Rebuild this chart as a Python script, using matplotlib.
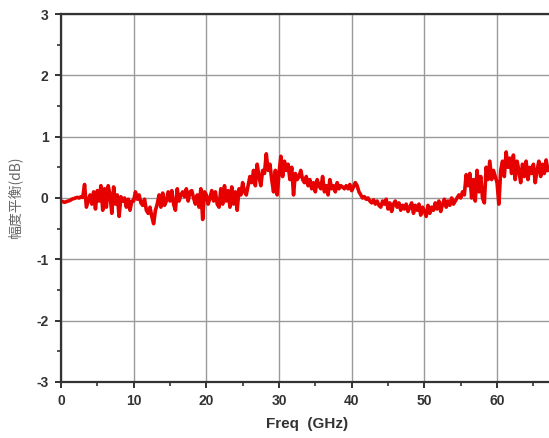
import numpy as np
import matplotlib
matplotlib.use("Agg")
import matplotlib.pyplot as plt
from matplotlib.ticker import MultipleLocator

plt.rcParams["axes.unicode_minus"] = False

# amplitude balance (dB), 0.25 GHz steps from 0 to 67 GHz
balance = [
    -0.05, -0.06, -0.07, -0.06,   # 0
    -0.05, -0.04, -0.02, -0.01,   # 1
    0.00, 0.01, 0.00, 0.02,       # 2
    0.01, 0.22, -0.15, -0.05,     # 3
    0.05, -0.10, 0.10, -0.18,     # 4
    0.12, -0.05, 0.20, -0.20,     # 5
    0.15, -0.15, 0.20, 0.05,      # 6
    -0.25, 0.18, -0.10, 0.05,     # 7
    -0.30, 0.02, -0.05, 0.00,     # 8
    -0.15, -0.02, -0.20, -0.05,   # 9
    -0.05, 0.10, -0.02, 0.05,     # 10
    -0.08, -0.12, -0.02, -0.20,   # 11
    -0.25, -0.15, -0.30, -0.42,   # 12
    -0.20, -0.10, 0.05, -0.15,    # 13
    0.08, -0.12, -0.05, 0.10,     # 14
    -0.05, 0.12, -0.10, -0.20,    # 15
    0.15, -0.05, 0.05, 0.10,      # 16
    0.02, 0.15, -0.05, 0.10,      # 17
    0.12, 0.00, -0.10, 0.05,      # 18
    -0.15, 0.15, -0.35, 0.10,     # 19
    0.05, -0.10, 0.00, 0.12,      # 20
    -0.05, 0.10, -0.10, -0.15,    # 21
    0.15, -0.10, 0.20, -0.05,     # 22
    0.12, -0.15, 0.18, -0.10,     # 23
    0.10, -0.20, 0.15, 0.05,      # 24
    0.25, 0.10, 0.05, 0.20,       # 25
    0.35, 0.25, 0.45, 0.20,       # 26
    0.55, 0.35, 0.20, 0.45,       # 27
    0.40, 0.72, 0.45, 0.55,       # 28
    0.30, 0.10, 0.45, 0.05,       # 29
    0.40, 0.68, 0.35, 0.60,       # 30
    0.45, 0.55, 0.30, 0.50,       # 31
    0.05, 0.40, 0.30, 0.35,       # 32
    0.45, 0.30, 0.25, 0.35,       # 33
    0.20, 0.30, 0.15, 0.25,       # 34
    0.10, 0.30, 0.20, 0.15,       # 35
    0.35, 0.10, 0.20, 0.05,       # 36
    0.30, 0.15, 0.20, 0.10,       # 37
    0.25, 0.15, 0.20, 0.18,       # 38
    0.15, 0.20, 0.15, 0.22,       # 39
    0.12, 0.18, 0.25, 0.20,       # 40
    0.10, 0.05, 0.00, 0.02,       # 41
    -0.02, 0.00, -0.05, -0.08,    # 42
    -0.03, -0.10, -0.05, -0.12,   # 43
    -0.15, -0.05, -0.10, -0.02,   # 44
    -0.18, -0.08, -0.22, -0.10,   # 45
    -0.05, -0.15, -0.08, -0.20,   # 46
    -0.12, -0.18, -0.10, -0.22,   # 47
    -0.15, -0.08, -0.25, -0.12,   # 48
    -0.20, -0.10, -0.28, -0.15,   # 49
    -0.22, -0.30, -0.12, -0.25,   # 50
    -0.15, -0.20, -0.08, -0.18,   # 51
    -0.05, -0.22, -0.10, -0.02,   # 52
    -0.15, -0.05, -0.12, 0.00,    # 53
    -0.10, -0.05, 0.00, 0.05,     # 54
    0.00, 0.10, 0.05, 0.38,       # 55
    0.20, 0.40, 0.00, 0.30,       # 56
    -0.05, 0.45, 0.10, 0.35,      # 57
    0.00, -0.08, 0.50, 0.30,      # 58
    0.60, 0.30, 0.45, 0.35,       # 59
    0.25, -0.10, 0.45, 0.60,      # 60
    0.35, 0.75, 0.50, 0.65,       # 61
    0.40, 0.70, 0.30, 0.60,       # 62
    0.45, 0.25, 0.55, 0.35,       # 63
    0.60, 0.30, 0.50, 0.40,       # 64
    0.55, 0.25, 0.45, 0.60,       # 65
    0.35, 0.55, 0.40, 0.62,       # 66
    0.45,                         # 67
]
freq = np.linspace(0, 67, len(balance))

xticks = [0, 10, 20, 30, 40, 50, 60]
yticks = [-3, -2, -1, 0, 1, 2, 3]

fig = plt.figure(figsize=(5.49, 4.38), dpi=100)
ax = fig.add_axes([0.111, 0.128, 0.895, 0.840])

ax.plot(freq, balance, color="#e60000", lw=2.6, solid_joinstyle="round")

ax.set_xlim(0, 67.6)
ax.set_ylim(-3, 3)
ax.set_xticks(xticks)
ax.set_yticks(yticks)
ax.xaxis.set_minor_locator(MultipleLocator(5))
ax.yaxis.set_minor_locator(MultipleLocator(0.5))
ax.grid(True, which="major", color="#9a9a9a", lw=1.0)

for s in ["left", "bottom", "top"]:
    ax.spines[s].set_color("#333333")
    ax.spines[s].set_linewidth(1.6)
ax.spines["right"].set_visible(False)

ax.tick_params(which="major", direction="out", length=4, width=1.4, color="#333333",
               labelsize=10, labelcolor="#333333", pad=5)
ax.tick_params(which="minor", direction="out", length=3, width=1.2, color="#333333")
ax.tick_params(top=False, right=False)
for lab in ax.get_xticklabels() + ax.get_yticklabels():
    lab.set_fontweight("bold")
    lab.set_family("Liberation Sans")

ax.set_xlabel("Freq  (GHz)", fontsize=11, fontweight="bold", family="Liberation Sans",
              color="#333333", labelpad=6)
ax.set_ylabel("幅度平衡(dB)", fontsize=10, family=["Noto Sans CJK SC", "DejaVu Sans"],
              color="#666666", labelpad=10)

fig.savefig("out.png", dpi=100)
